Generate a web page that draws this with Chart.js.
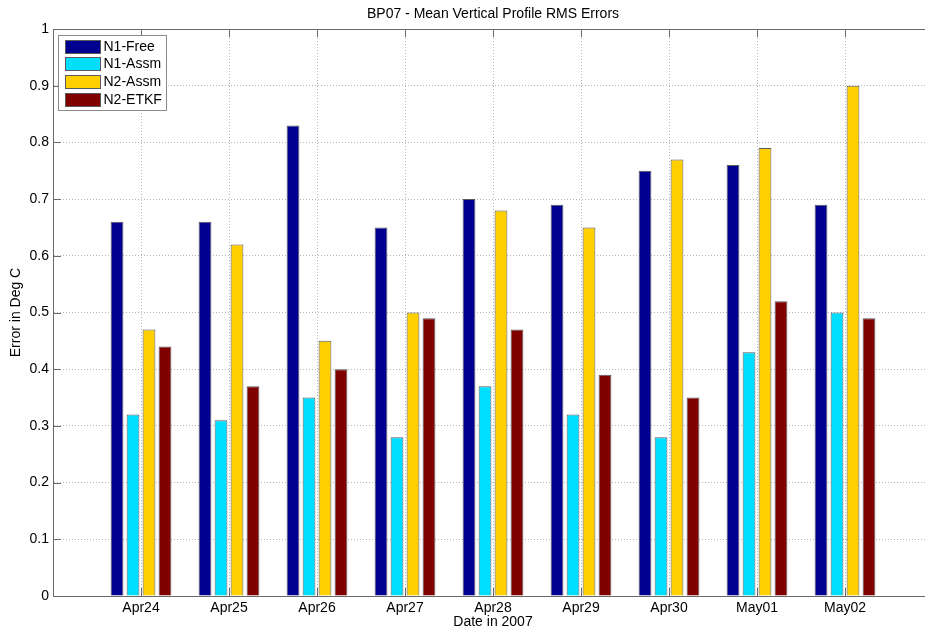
<!DOCTYPE html>
<html>
<head>
<meta charset="utf-8">
<title>BP07 - Mean Vertical Profile RMS Errors</title>
<script src="https://cdn.jsdelivr.net/npm/chart.js@4/dist/chart.umd.min.js"></script>
<style>
  html, body { margin: 0; padding: 0; background: #ffffff; overflow: hidden; width: 925px; height: 632px; }
  #wrap { position: absolute; left: 0; top: 0; width: 986px; height: 632px; }
</style>
</head>
<body>
<div id="wrap"><canvas id="chart"></canvas></div>
<script>
// Survey days (blank slots pad the axis to 0..10 like the plotting software)
const dates = ['Apr24', 'Apr25', 'Apr26', 'Apr27', 'Apr28', 'Apr29', 'Apr30', 'May01', 'May02'];

// Mean vertical profile RMS errors (deg C) per run
const n1Free = [0.66, 0.66, 0.83, 0.65, 0.70, 0.69, 0.75, 0.76, 0.69];
const n1Assm = [0.32, 0.31, 0.35, 0.28, 0.37, 0.32, 0.28, 0.43, 0.50];
const n2Assm = [0.47, 0.62, 0.45, 0.50, 0.68, 0.65, 0.77, 0.79, 0.90];
const n2Etkf = [0.44, 0.37, 0.40, 0.49, 0.47, 0.39, 0.35, 0.52, 0.49];

const seriesNames = ['N1-Free', 'N1-Assm', 'N2-Assm', 'N2-ETKF'];
const seriesColors = ['#000090', '#00DFFF', '#FFCF00', '#800000'];

const yTicks = ['0', '0.1', '0.2', '0.3', '0.4', '0.5', '0.6', '0.7', '0.8', '0.9', '1'];

const FONT = '"Liberation Sans", Arial, Helvetica, sans-serif';
const AXIS = '#6a6a6a';
const TEXT = '#000000';

const labels = [''].concat(dates, ['']);
const pad = arr => [null].concat(arr, [null]);

const datasets = [n1Free, n1Assm, n2Assm, n2Etkf].map((vals, i) => ({
  label: seriesNames[i],
  data: pad(vals),
  backgroundColor: seriesColors[i],
  borderColor: '#5a5a5a',
  borderWidth: 1,
  borderSkipped: 'bottom',
  categoryPercentage: 0.727,
  barPercentage: 0.8
}));

// Box frame, inward tick marks and the in-axes legend
const framePlugin = {
  id: 'frame',
  afterDatasetsDraw(chart) {
    const { ctx, chartArea: a, scales } = chart;
    const tl = 8;
    ctx.save();
    ctx.strokeStyle = AXIS;
    ctx.lineWidth = 1;
    ctx.beginPath();
    scales.y.ticks.forEach((t, i) => {
      const y = Math.round(scales.y.getPixelForTick(i)) + 0.5;
      ctx.moveTo(a.left, y); ctx.lineTo(a.left + tl, y);
      ctx.moveTo(a.right, y); ctx.lineTo(a.right - tl, y);
    });
    for (let i = 1; i <= dates.length; i++) {
      const x = Math.round(scales.x.getPixelForTick(i)) + 0.5;
      ctx.moveTo(x, a.bottom); ctx.lineTo(x, a.bottom - tl);
      ctx.moveTo(x, a.top); ctx.lineTo(x, a.top + tl);
    }
    ctx.stroke();
    ctx.strokeRect(Math.round(a.left) + 0.5, Math.round(a.top) + 0.5,
                   Math.round(a.right - a.left), Math.round(a.bottom - a.top));

    // legend
    const lx = Math.round(a.left) + 5.5, ly = Math.round(a.top) + 6.5;
    const lw = 108, rowH = 17.7;
    const lh = Math.round(rowH * chart.data.datasets.length + 4);
    ctx.fillStyle = '#ffffff';
    ctx.fillRect(lx, ly, lw, lh);
    ctx.strokeStyle = '#8a8a8a';
    ctx.strokeRect(lx, ly, lw, lh);
    ctx.font = '14px ' + FONT;
    ctx.textBaseline = 'middle';
    chart.data.datasets.forEach((ds, i) => {
      const ry = Math.round(ly + 4 + i * rowH);
      ctx.fillStyle = ds.backgroundColor;
      ctx.fillRect(lx + 7, ry, 35, 13);
      ctx.strokeStyle = '#5a5a5a';
      ctx.strokeRect(lx + 7, ry + 0.5, 35, 13);
      ctx.fillStyle = TEXT;
      ctx.fillText(ds.label, lx + 45, ry + 7);
    });
    ctx.restore();
  }
};

new Chart(document.getElementById('chart'), {
  type: 'bar',
  data: { labels, datasets },
  plugins: [framePlugin],
  options: {
    responsive: true,
    maintainAspectRatio: false,
    animation: false,
    layout: { padding: 0 },
    plugins: {
      legend: { display: false },
      tooltip: { enabled: false },
      title: {
        display: true,
        text: 'BP07 - Mean Vertical Profile RMS Errors',
        color: TEXT,
        font: { family: FONT, size: 14, weight: 'normal', lineHeight: 1.2 },
        padding: { top: 6, bottom: 6.2 }
      }
    },
    scales: {
      x: {
        type: 'category',
        offset: false,
        grid: {
          display: true,
          offset: false,
          color: '#b4b4b4',
          lineWidth: 1,
          drawTicks: false,
          tickLength: 0
        },
        border: { display: true, color: AXIS, dash: [1, 2] },
        ticks: {
          autoSkip: false,
          maxRotation: 0,
          minRotation: 0,
          padding: 4,
          color: TEXT,
          font: { family: FONT, size: 14 }
        },
        title: {
          display: true,
          text: 'Date in 2007',
          color: TEXT,
          font: { family: FONT, size: 14, lineHeight: 1.2 },
          padding: { top: 0, bottom: 1 }
        },
        afterFit(scale) { scale.height = 36; }
      },
      y: {
        min: 0,
        max: 1,
        grid: {
          color: '#b4b4b4',
          lineWidth: 1,
          drawTicks: false,
          tickLength: 0
        },
        border: { display: true, color: AXIS, dash: [1, 2] },
        ticks: {
          stepSize: 0.1,
          padding: 4,
          color: TEXT,
          font: { family: FONT, size: 14 },
          callback: (v, i) => yTicks[i]
        },
        title: {
          display: true,
          text: 'Error in Deg C',
          color: TEXT,
          font: { family: FONT, size: 14, lineHeight: 1.2 },
          padding: { top: 8, bottom: 0 }
        },
        afterFit(scale) { scale.width = 53; }
      },
      // blank right-hand margin so the axes sit centred under the title
      yRight: {
        position: 'right',
        min: 0,
        max: 1,
        grid: { display: false, drawTicks: false },
        border: { display: false },
        ticks: { display: false },
        afterFit(scale) { scale.width = 53; }
      }
    }
  }
});
</script>
</body>
</html>
